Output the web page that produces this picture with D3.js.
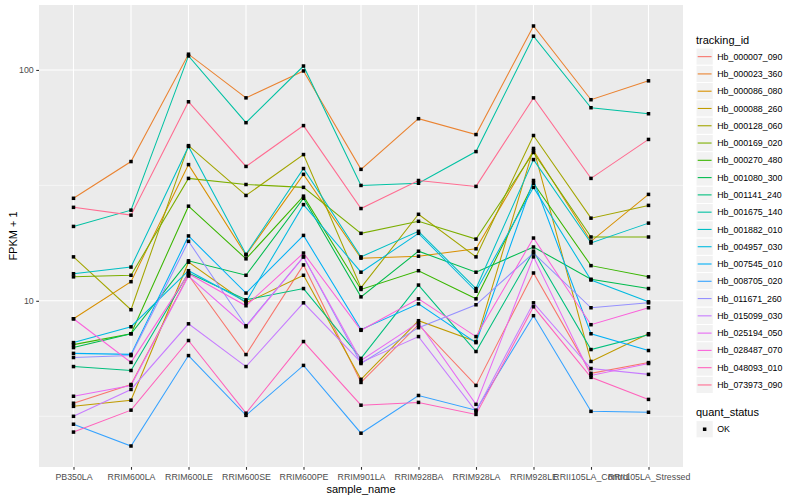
<!DOCTYPE html>
<html>
<head>
<meta charset="utf-8">
<script src="https://cdnjs.cloudflare.com/ajax/libs/d3/7.8.5/d3.min.js"></script>
<style>
  body { margin: 0; background: #fff; }
  text { font-family: "Liberation Sans", Arial, Helvetica, sans-serif; }
</style>
</head>
<body>
<div id="chart"></div>
<script>
// sample names on the x axis
const samples = ["PB350LA", "RRIM600LA", "RRIM600LE", "RRIM600SE", "RRIM600PE", "RRIM901LA",
                 "RRIM928BA", "RRIM928LA", "RRIM928LE", "RRII105LA_Control", "RRII105LA_Stressed"];

const trackingIds = ["Hb_000007_090", "Hb_000023_360", "Hb_000086_080", "Hb_000088_260", "Hb_000128_060",
                     "Hb_000169_020", "Hb_000270_480", "Hb_001080_300", "Hb_001141_240", "Hb_001675_140",
                     "Hb_001882_010", "Hb_004957_030", "Hb_007545_010", "Hb_008705_020", "Hb_011671_260",
                     "Hb_015099_030", "Hb_025194_050", "Hb_028487_070", "Hb_048093_010", "Hb_073973_090"];

// FPKM + 1 per sample, one array per tracking_id
const Hb_000007_090 = [3.6, 4.34, 12.9, 5.85, 14.3, 4.43, 7.88, 4.3, 13.2, 4.85, 5.4];
const Hb_000023_360 = [27.8, 40.1, 117, 75.7, 99, 37.1, 61.5, 52.5, 155, 74.3, 89.7];
const Hb_000086_080 = [8.36, 12.1, 38.9, 15.8, 35.3, 15.3, 15.6, 16.8, 44.8, 18.1, 28.9];
const Hb_000088_260 = [3.49, 3.71, 14.7, 9.8, 12.9, 4.57, 8.2, 6.66, 45.7, 5.46, 7.2];
const Hb_000128_060 = [15.5, 9.15, 47.0, 28.6, 43.0, 11.4, 23.7, 15.5, 52.0, 22.8, 25.9];
const Hb_000169_020 = [12.7, 12.9, 33.9, 31.9, 31.0, 19.6, 22.1, 18.5, 43.9, 18.9, 18.9];
const Hb_000270_480 = [6.46, 7.2, 25.7, 15.2, 28.4, 11.2, 13.5, 10.2, 32.3, 14.2, 12.7];
const Hb_001080_300 = [6.27, 7.2, 14.9, 12.9, 27.8, 10.4, 16.4, 13.3, 17.1, 12.4, 11.3];
const Hb_001141_240 = [5.19, 4.99, 13.2, 10.1, 11.3, 5.63, 11.7, 6.03, 16.4, 6.15, 7.13];
const Hb_001675_140 = [21.0, 24.7, 115, 59.1, 104, 31.6, 32.3, 44.3, 140, 68.6, 64.6];
const Hb_001882_010 = [13.1, 14.0, 46.6, 15.9, 37.4, 15.5, 20.0, 11.3, 40.9, 17.8, 21.7];
const Hb_004957_030 = [6.59, 7.72, 13.5, 9.9, 26.1, 13.3, 19.6, 11.0, 31.0, 12.3, 9.9];
const Hb_007545_010 = [5.92, 5.86, 19.1, 10.8, 19.2, 7.5, 9.7, 6.59, 33.2, 7.2, 6.09];
const Hb_008705_020 = [2.92, 2.35, 5.79, 3.19, 5.25, 2.67, 3.89, 3.36, 8.62, 3.32, 3.29];
const Hb_011671_260 = [5.68, 5.79, 18.1, 7.8, 15.5, 5.35, 7.65, 9.61, 16.1, 9.33, 9.8];
const Hb_015099_030 = [3.16, 4.13, 7.95, 5.19, 9.8, 5.41, 7.0, 3.32, 9.8, 5.09, 4.8];
const Hb_025194_050 = [3.86, 4.3, 12.8, 7.72, 15.5, 5.51, 8.04, 3.56, 15.5, 4.75, 5.35];
const Hb_028487_070 = [8.36, 5.41, 13.1, 9.52, 16.1, 7.45, 10.2, 7.0, 18.7, 7.88, 9.33];
const Hb_048093_010 = [2.7, 3.36, 6.73, 3.26, 6.66, 3.53, 3.63, 3.22, 9.42, 4.66, 3.74];
const Hb_073973_090 = [25.4, 23.5, 72.8, 38.2, 57.4, 25.1, 33.2, 31.3, 75.7, 33.9, 50.0];

const seriesValues = [Hb_000007_090, Hb_000023_360, Hb_000086_080, Hb_000088_260, Hb_000128_060,
                      Hb_000169_020, Hb_000270_480, Hb_001080_300, Hb_001141_240, Hb_001675_140,
                      Hb_001882_010, Hb_004957_030, Hb_007545_010, Hb_008705_020, Hb_011671_260,
                      Hb_015099_030, Hb_025194_050, Hb_028487_070, Hb_048093_010, Hb_073973_090];

const quantStatus = ["OK"];
const yTicks = [10, 100];

// ggplot default hue palette for 20 levels
const palette = ["#F8766D", "#EA8331", "#D89000", "#C09B00", "#A3A500", "#7CAE00", "#39B600", "#00BB4E",
                 "#00BF7D", "#00C1A3", "#00BFC4", "#00BAE0", "#00B0F6", "#35A2FF", "#9590FF", "#C77CFF",
                 "#E76BF3", "#FA62DB", "#FF62BC", "#FF6C91"];

const W = 800, H = 500;
const panel = {left: 39, right: 683, top: 5, bottom: 467};
const ptSize = 3.5;

const svg = d3.select("#chart").append("svg")
    .attr("width", W)
    .attr("height", H);

const series = trackingIds.map((id, i) => ({id: id, color: palette[i], values: seriesValues[i]}));

const x = d3.scalePoint()
    .domain(samples)
    .range([panel.left, panel.right])
    .padding(0.6);

const allVals = seriesValues.flat();
const lmin = Math.log10(d3.min(allVals)), lmax = Math.log10(d3.max(allVals));
const pad = (lmax - lmin) * 0.05;
const y = d3.scaleLog()
    .domain([Math.pow(10, lmin - pad), Math.pow(10, lmax + pad)])
    .range([panel.bottom, panel.top]);

// panel background
svg.append("rect")
    .attr("x", panel.left).attr("y", panel.top)
    .attr("width", panel.right - panel.left)
    .attr("height", panel.bottom - panel.top)
    .attr("fill", "#ebebeb");

// minor y grid (half decades)
const minor = [Math.pow(10, 0.5), Math.pow(10, 1.5), Math.pow(10, 2.5)]
    .filter(v => v > y.domain()[0] && v < y.domain()[1]);
svg.append("g").selectAll("line").data(minor).enter().append("line")
    .attr("x1", panel.left).attr("x2", panel.right)
    .attr("y1", d => y(d)).attr("y2", d => y(d))
    .attr("stroke", "#fff").attr("stroke-width", 0.55);

// major grid
svg.append("g").selectAll("line").data(yTicks).enter().append("line")
    .attr("x1", panel.left).attr("x2", panel.right)
    .attr("y1", d => y(d)).attr("y2", d => y(d))
    .attr("stroke", "#fff").attr("stroke-width", 1.1);

svg.append("g").selectAll("line").data(samples).enter().append("line")
    .attr("x1", d => x(d)).attr("x2", d => x(d))
    .attr("y1", panel.top).attr("y2", panel.bottom)
    .attr("stroke", "#fff").attr("stroke-width", 1.1);

// lines
const line = d3.line()
    .x((d, i) => x(samples[i]))
    .y(d => y(d));

svg.append("g").selectAll("path").data(series).enter().append("path")
    .attr("d", d => line(d.values))
    .attr("fill", "none")
    .attr("stroke", d => d.color)
    .attr("stroke-width", 1.05);

// points (quant_status OK -> filled square)
const pts = [];
series.forEach(s => s.values.forEach((v, i) => pts.push({sample: samples[i], v: v})));
svg.append("g").selectAll("rect").data(pts).enter().append("rect")
    .attr("x", d => x(d.sample) - ptSize / 2)
    .attr("y", d => y(d.v) - ptSize / 2)
    .attr("width", ptSize).attr("height", ptSize)
    .attr("fill", "#000");

// axes
const yAxis = d3.axisLeft(y)
    .tickValues(yTicks)
    .tickFormat(d3.format("d"))
    .tickSize(2.75)
    .tickPadding(2.5);
const gy = svg.append("g")
    .attr("transform", "translate(" + panel.left + ",0)")
    .call(yAxis);

const xAxis = d3.axisBottom(x)
    .tickSize(2.75)
    .tickPadding(4);
const gx = svg.append("g")
    .attr("transform", "translate(0," + panel.bottom + ")")
    .call(xAxis);

[gx, gy].forEach(g => {
    g.select(".domain").remove();
    g.selectAll(".tick line").attr("stroke", "#333").attr("stroke-width", 1.1);
    g.selectAll(".tick text")
        .attr("fill", "#4d4d4d")
        .style("font-size", "8.8px")
        .style("font-family", "'Liberation Sans', Arial, sans-serif");
});

// axis titles
svg.append("text")
    .attr("x", (panel.left + panel.right) / 2)
    .attr("y", 493)
    .attr("text-anchor", "middle")
    .style("font-size", "11px")
    .attr("fill", "#000")
    .text("sample_name");

svg.append("text")
    .attr("transform", "translate(17," + ((panel.top + panel.bottom) / 2) + ") rotate(-90)")
    .attr("text-anchor", "middle")
    .style("font-size", "11px")
    .attr("fill", "#000")
    .text("FPKM + 1");

// legend: tracking_id
const legX = 696, keyH = 17.28, legTop = 48;
const leg = svg.append("g");
leg.append("text")
    .attr("x", legX).attr("y", 44)
    .style("font-size", "11px")
    .text("tracking_id");

const keys = leg.selectAll(".key").data(series).enter().append("g")
    .attr("class", "key")
    .attr("transform", (d, i) => "translate(" + legX + "," + (legTop + i * keyH) + ")");
keys.append("rect")
    .attr("width", keyH).attr("height", keyH)
    .attr("fill", "#f2f2f2").attr("stroke", "#fff");
keys.append("line")
    .attr("x1", 1.7).attr("x2", keyH - 1.7)
    .attr("y1", keyH / 2).attr("y2", keyH / 2)
    .attr("stroke", d => d.color).attr("stroke-width", 1.1);
keys.append("text")
    .attr("x", keyH + 4)
    .attr("y", keyH / 2)
    .attr("dy", "0.35em")
    .style("font-size", "8.8px")
    .text(d => d.id);

// legend: quant_status
const qTop = legTop + series.length * keyH + 11;
leg.append("text")
    .attr("x", legX).attr("y", qTop + 11)
    .style("font-size", "11px")
    .text("quant_status");
const qk = leg.selectAll(".qkey").data(quantStatus).enter().append("g")
    .attr("class", "qkey")
    .attr("transform", (d, i) => "translate(" + legX + "," + (qTop + 16 + i * keyH) + ")");
qk.append("rect")
    .attr("width", keyH).attr("height", keyH)
    .attr("fill", "#f2f2f2").attr("stroke", "#fff");
qk.append("rect")
    .attr("x", keyH / 2 - ptSize / 2).attr("y", keyH / 2 - ptSize / 2)
    .attr("width", ptSize).attr("height", ptSize)
    .attr("fill", "#000");
qk.append("text")
    .attr("x", keyH + 4)
    .attr("y", keyH / 2)
    .attr("dy", "0.35em")
    .style("font-size", "8.8px")
    .text(d => d);
</script>
</body>
</html>
